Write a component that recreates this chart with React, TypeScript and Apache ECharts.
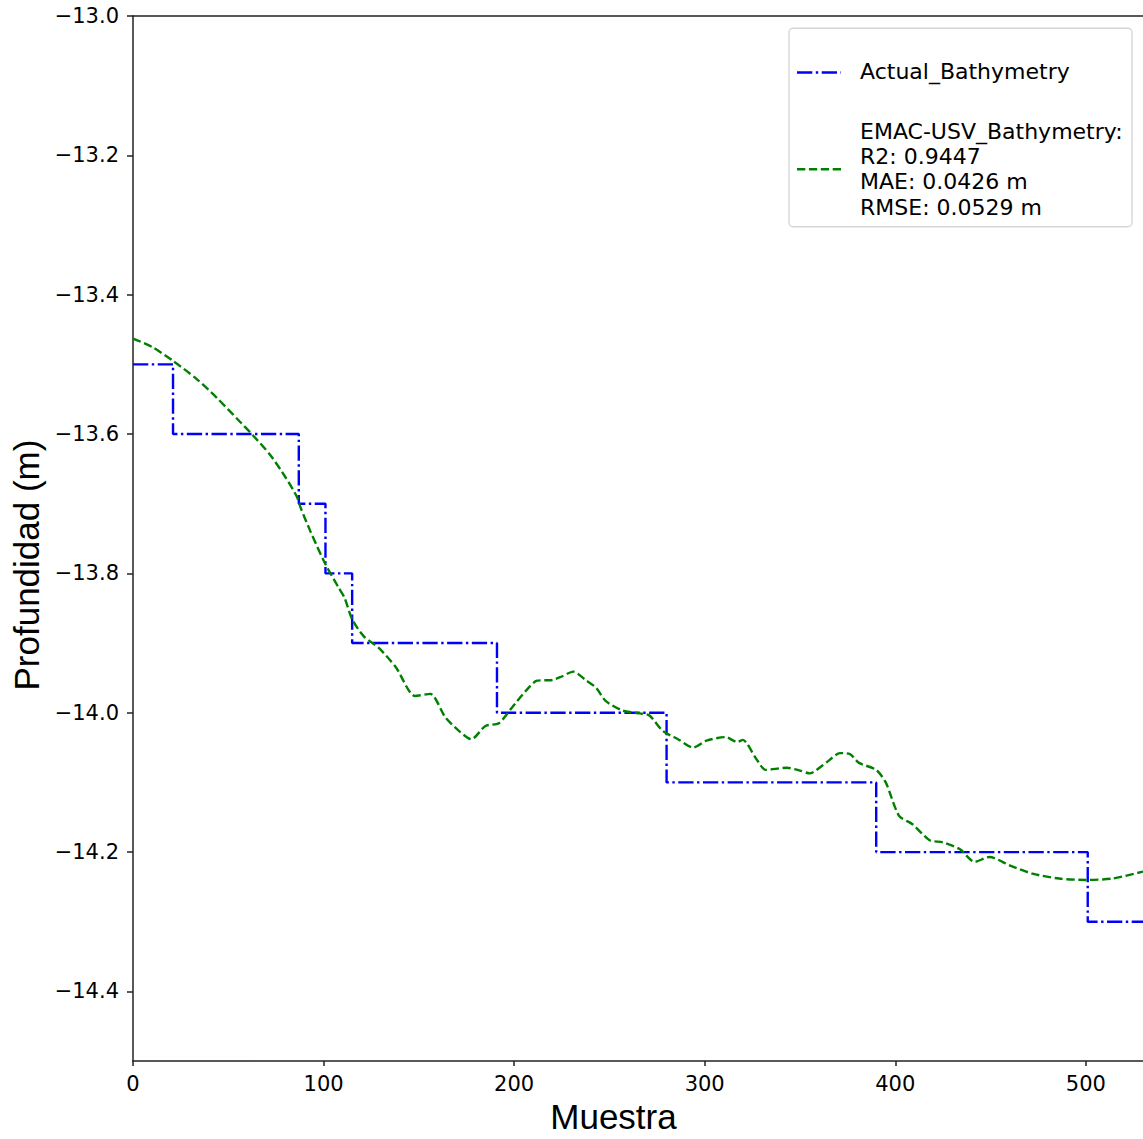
import React, { useEffect, useRef } from "react";
import * as echarts from "echarts";

const xTicks = [0, 100, 200, 300, 400, 500];
const yTicks = [-14.4, -14.2, -14.0, -13.8, -13.6, -13.4, -13.2, -13.0];

const stepSamples = [0, 21, 87, 101, 115, 191, 280, 390, 501, 530];
const stepDepths = [-13.5, -13.6, -13.7, -13.8, -13.9, -14.0, -14.1, -14.2, -14.3, -14.3];

const predSamples = [
  0, 10, 21, 33, 44, 56, 63, 72, 80, 86, 88, 93, 101, 108, 111, 115, 121, 129, 138, 148,
  156, 164, 171, 177.5, 185, 192, 199, 206, 212, 220, 225, 231, 238, 243, 248, 257, 266,
  271, 278, 286, 294, 301, 311, 317, 320, 327, 332, 343, 350, 355, 364, 371, 376, 381, 390,
  395, 402, 409, 418, 425, 434, 441.6, 449.5, 460, 472, 486, 500, 514, 530,
];
const predDepths = [
  -13.463, -13.475, -13.495, -13.52, -13.548, -13.582, -13.602, -13.63, -13.662, -13.69,
  -13.706, -13.739, -13.787, -13.821, -13.835, -13.866, -13.89, -13.907, -13.935, -13.976,
  -13.973, -14.007, -14.026, -14.038, -14.019, -14.015, -13.992, -13.969, -13.954, -13.953,
  -13.948, -13.941, -13.954, -13.964, -13.983, -13.997, -14.001, -14.004, -14.026, -14.038,
  -14.05, -14.04, -14.035, -14.042, -14.039, -14.066, -14.082, -14.079, -14.083, -14.087,
  -14.071, -14.058, -14.059, -14.072, -14.082, -14.1, -14.148, -14.16, -14.183, -14.186,
  -14.196, -14.214, -14.207, -14.219, -14.231, -14.238, -14.24, -14.238, -14.228,
];

const seriesNames = [
  "Actual_Bathymetry",
  "EMAC-USV_Bathymetry:\nR2: 0.9447\nMAE: 0.0426 m\nRMSE: 0.0529 m",
];
const xName = "Muestra";
const yName = "Profundidad (m)";

const BLUE = "#0000ff";
const GREEN = "#008000";
const AXIS = "#222";
const TICK_FONT = "DejaVu Sans";
const TITLE_FONT = "Liberation Sans";
const LW = 2.4;
const DASHDOT = [15.3, 3.5, 2.4, 3.5];
const DASHED = [8.3, 3.6];

export default function App() {
  const ref = useRef<HTMLDivElement | null>(null);

  useEffect(() => {
    document.body.style.margin = "0";
    if (!ref.current) return;
    const chart = echarts.init(ref.current, undefined, { renderer: "svg" });

    const stepData = stepSamples.map((x, i) => [x, stepDepths[i]]);
    const predData = predSamples.map((x, i) => [x, predDepths[i]]);

    const option: any = {
      animation: false,
      backgroundColor: "#fff",
      grid: { left: 133, right: 0, top: 16, bottom: 74, containLabel: false },
      xAxis: [
        {
          type: "value",
          min: 0,
          max: 530,
          position: "bottom",
          name: xName,
          nameLocation: "middle",
          nameGap: 35,
          nameTextStyle: {
            fontFamily: TITLE_FONT,
            fontSize: 35,
            color: "#000",
            padding: [0, 49, 0, 0],
          },
          axisLine: { show: true, onZero: false, lineStyle: { color: AXIS, width: 1.5 } },
          axisTick: {
            show: true,
            length: 5,
            customValues: xTicks,
            lineStyle: { color: AXIS, width: 1.5 },
          },
          axisLabel: {
            customValues: xTicks,
            margin: 12,
            fontFamily: TICK_FONT,
            fontSize: 21,
            color: "#000",
          },
          splitLine: { show: false },
        },
        {
          type: "value",
          min: 0,
          max: 530,
          position: "top",
          axisLine: { show: true, onZero: false, lineStyle: { color: AXIS, width: 1.5 } },
          axisTick: { show: false },
          axisLabel: { show: false },
          splitLine: { show: false },
        },
      ],
      yAxis: {
        type: "value",
        min: -14.5,
        max: -13.0,
        name: yName,
        nameLocation: "middle",
        nameRotate: 90,
        nameGap: 87,
        nameTextStyle: {
          fontFamily: TITLE_FONT,
          fontSize: 35,
          color: "#000",
          padding: [0, 53, 0, 0],
        },
        axisLine: { show: true, onZero: false, lineStyle: { color: AXIS, width: 1.5 } },
        axisTick: {
          show: true,
          length: 6,
          customValues: yTicks,
          lineStyle: { color: AXIS, width: 1.5 },
        },
        axisLabel: {
          customValues: yTicks,
          margin: 14,
          padding: [5, 0, 0, 0],
          fontFamily: TICK_FONT,
          fontSize: 21,
          color: "#000",
          formatter: (v: number) => v.toFixed(1).replace("-", "\u2212"),
        },
        splitLine: { show: false },
      },
      series: [
        {
          name: seriesNames[0],
          type: "line",
          xAxisIndex: 0,
          data: stepData,
          step: "end",
          showSymbol: false,
          symbol: "none",
          lineStyle: { color: BLUE, width: LW, type: DASHDOT },
          itemStyle: { color: BLUE },
        },
        {
          name: seriesNames[1],
          type: "line",
          xAxisIndex: 0,
          data: predData,
          showSymbol: false,
          symbol: "none",
          smooth: 0.25,
          lineStyle: { color: GREEN, width: LW, type: DASHED },
          itemStyle: { color: GREEN },
        },
      ],
      graphic: [
        {
          type: "rect",
          shape: { x: 789, y: 28.3, width: 343, height: 198.4, r: 4 },
          style: { fill: "rgba(255,255,255,0.8)", stroke: "#d6d6d6", lineWidth: 1.4 },
          z: 10,
        },
        {
          type: "line",
          shape: { x1: 797, y1: 72.5, x2: 841, y2: 72.5 },
          style: { stroke: BLUE, lineWidth: LW, lineDash: DASHDOT },
          z: 11,
        },
        {
          type: "text",
          x: 860,
          y: 71.6,
          style: {
            text: seriesNames[0],
            fontFamily: TICK_FONT,
            fontSize: 22,
            fill: "#000",
            verticalAlign: "middle",
            align: "left",
          },
          z: 11,
        },
        {
          type: "line",
          shape: { x1: 797, y1: 169.3, x2: 841, y2: 169.3 },
          style: { stroke: GREEN, lineWidth: LW, lineDash: DASHED },
          z: 11,
        },
        {
          type: "text",
          x: 860,
          y: 169.2,
          style: {
            text: seriesNames[1],
            fontFamily: TICK_FONT,
            fontSize: 22,
            lineHeight: 25.3,
            fill: "#000",
            verticalAlign: "middle",
            align: "left",
          },
          z: 11,
        },
      ],
    };

    chart.setOption(option);
    return () => {
      chart.dispose();
    };
  }, []);

  return <div ref={ref} style={{ width: 1143, height: 1139 }} />;
}
